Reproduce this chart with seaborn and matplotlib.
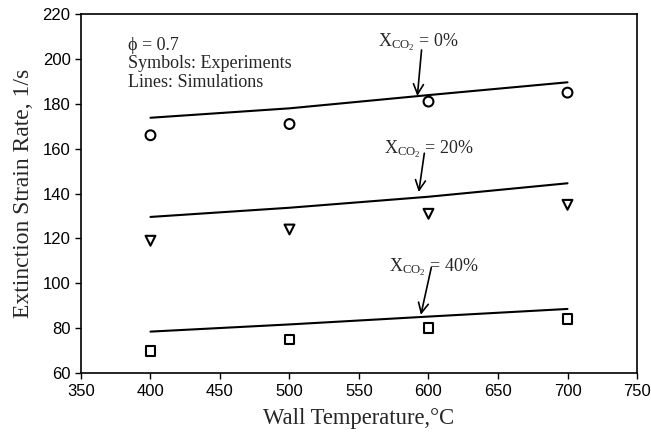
import numpy as np
import pandas as pd
import matplotlib
matplotlib.use('Agg')
import matplotlib.pyplot as plt
import seaborn as sns

# Values
temps = [400, 500, 600, 700]
exp_0 = [166, 171, 181, 185]
exp_20 = [119, 124, 131, 135]
exp_40 = [70, 75, 80, 84]
sim_0 = [173.8, 178.0, 183.9, 189.6]
sim_20 = [129.6, 133.7, 138.6, 144.6]
sim_40 = [78.5, 81.7, 85.2, 88.6]
co2_labels = ['0%', '20%', '40%']

sns.set_style('ticks')
plt.rcParams['font.family'] = ['Liberation Serif', 'DejaVu Serif']
plt.rcParams['mathtext.fontset'] = 'custom'
plt.rcParams['mathtext.rm'] = 'Liberation Serif'
plt.rcParams['mathtext.it'] = 'Liberation Serif:italic'

exp = pd.DataFrame({'T': temps * 3,
                    'rate': exp_0 + exp_20 + exp_40,
                    'co2': [c for c in co2_labels for _ in temps]})
sim = pd.DataFrame({'T': temps * 3,
                    'rate': sim_0 + sim_20 + sim_40,
                    'co2': [c for c in co2_labels for _ in temps]})

fig = plt.figure(figsize=(6.51, 4.40), dpi=100)
ax = fig.add_axes([0.1244, 0.152, 0.8541, 0.816])

sns.lineplot(data=sim, x='T', y='rate', units='co2', estimator=None,
             color='black', lw=1.5, ax=ax)
sns.scatterplot(data=exp, x='T', y='rate', style='co2',
                markers={'0%': 'o', '20%': 'v', '40%': 's'},
                facecolor='none', edgecolor='black', linewidth=1.5, s=50,
                legend=False, ax=ax)

ax.set_xlim(350, 750)
ax.set_ylim(60, 220)
ax.set_xticks(np.arange(350, 751, 50))
ax.set_yticks(np.arange(60, 221, 20))
for lab in ax.get_xticklabels() + ax.get_yticklabels():
    lab.set_family('Liberation Sans')
    lab.set_fontsize(12)
ax.tick_params(direction='out', length=4, width=1, colors='black')
for sp in ax.spines.values():
    sp.set_visible(True)
    sp.set_linewidth(1.2)
    sp.set_color('black')

ax.set_xlabel('Wall Temperature,°C', fontsize=16.3, labelpad=7)
ax.set_ylabel('Extinction Strain Rate, 1/s', fontsize=17, labelpad=6)

ax.text(383.5, 210, 'ϕ = 0.7\nSymbols: Experiments\nLines: Simulations',
        fontsize=13, va='top', ha='left', linespacing=1.15)

# annotations
notes = [('0%', (564, 207.5), (592, 183.5), (595, 204)),
         ('20%', (568, 160), (593, 140.7), (597, 158)),
         ('40%', (571.5, 107), (594.5, 86), (602, 107))]
for lab, tpos, head, tail in notes:
    ax.text(tpos[0], tpos[1], r'X$_{\mathregular{CO}_2}$ = ' + lab,
            fontsize=13, va='center', ha='left')
    ax.annotate('', xy=head, xytext=tail,
                arrowprops=dict(arrowstyle='->', color='black', lw=1.2,
                                mutation_scale=18, shrinkA=0, shrinkB=0))

fig.savefig('out.png', dpi=100)
